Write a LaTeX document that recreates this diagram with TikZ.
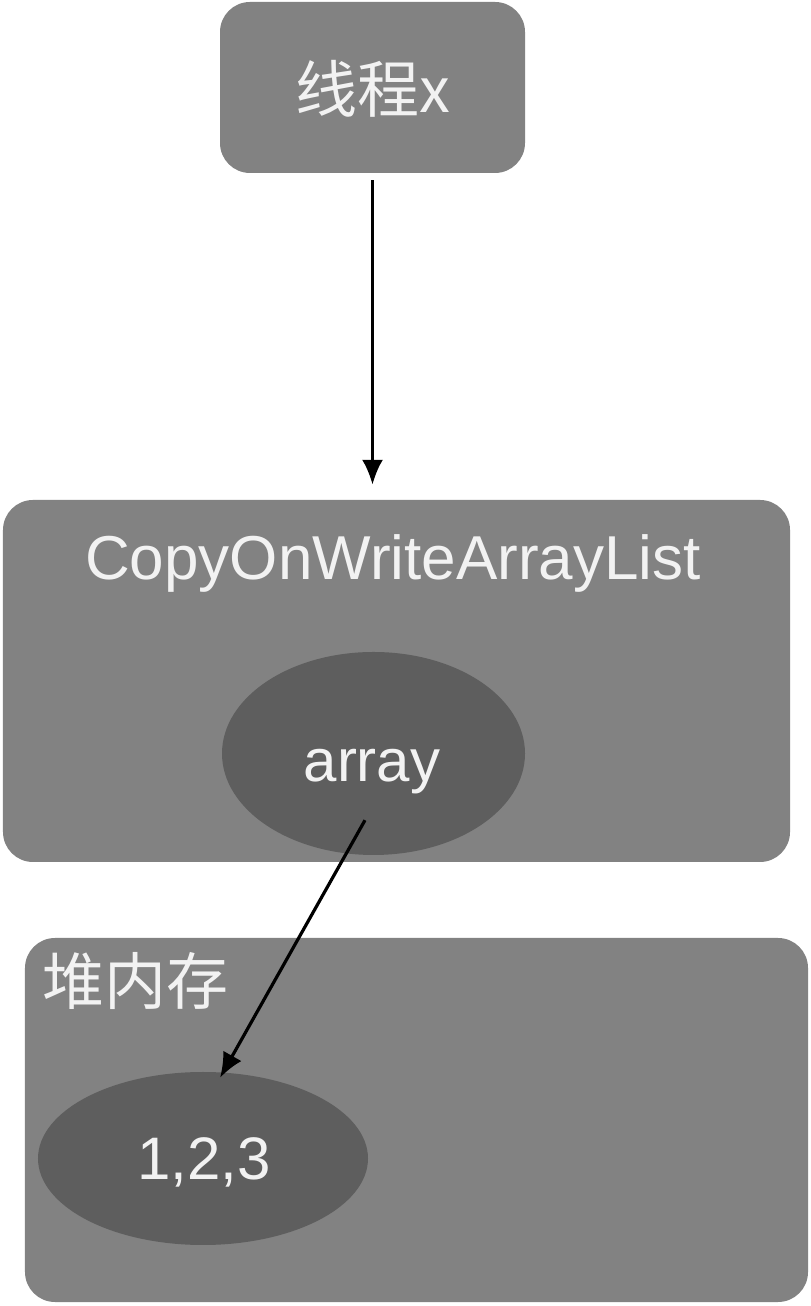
\documentclass[tikz,border=0pt]{standalone}
\usepackage{fontspec}
\setmainfont{Liberation Sans}
\newfontfamily\cjk{Noto Sans CJK SC}
\usepackage{tikz}
\usetikzlibrary{arrows.meta}
\usetikzlibrary{shapes.geometric}
\usetikzlibrary{positioning}
\definecolor{boxcol}{RGB}{130,130,130}
\definecolor{blobcol}{RGB}{94,94,94}
\definecolor{txtcol}{RGB}{242,242,242}
\tikzset{
  box/.style={fill=boxcol, rounded corners=30bp, inner sep=0pt},
  blob/.style={fill=blobcol, ellipse, inner sep=0pt},
  lbl/.style={text=txtcol, inner sep=0pt, font=\fontsize{60bp}{70bp}\selectfont},
  cjklbl/.style={text=txtcol, inner sep=0pt, font=\cjk\fontsize{62bp}{72bp}\selectfont},
  link/.style={-{Latex[length=25bp,width=21bp]}, line width=3.2bp, black}
}

\begin{document}
\begin{tikzpicture}[x=1bp,y=1bp]
\useasboundingbox (0,0) rectangle (810,1306);
%%
  \node (thread) at (372.5,1218.5) [box, minimum width=305bp, minimum height=171bp] {};
  \node (threadtext) at (373,1193) [cjklbl, anchor=base] {线程x};
  \node (cow) at (396.5,625) [box, minimum width=787bp, minimum height=362bp] {};
  \node (cowtext) at (393,726) [lbl, anchor=base, font=\fontsize{62bp}{72bp}\selectfont] {CopyOnWriteArrayList};
  \node (array) at (373.5,552.5) [blob, minimum width=303bp, minimum height=203bp] {};
  \node (arraytext) at (372,524) [lbl, anchor=base] {array};
  \node (heap) at (416.5,186) [box, minimum width=783bp, minimum height=364bp] {};
  \node (heaptext) at (42,301) [cjklbl, anchor=base west] {堆内存};
  \node (nums) at (203,147.5) [blob, minimum width=330bp, minimum height=173bp] {};
  \node (numstext) at (204,126) [lbl, anchor=base] {1,2,3};
  \coordinate (arraytail) at ([xshift=-8.5bp, yshift=35bp]array.south);
  \coordinate (numstip) at ([xshift=17bp, yshift=-6bp]nums.north);
  \draw [link, shorten <=7bp, shorten >=15bp] (thread.south) -- (thread.south |- cow.north);
  \draw [link] (arraytail) -- (numstip);
%
\end{tikzpicture}
\end{document}
